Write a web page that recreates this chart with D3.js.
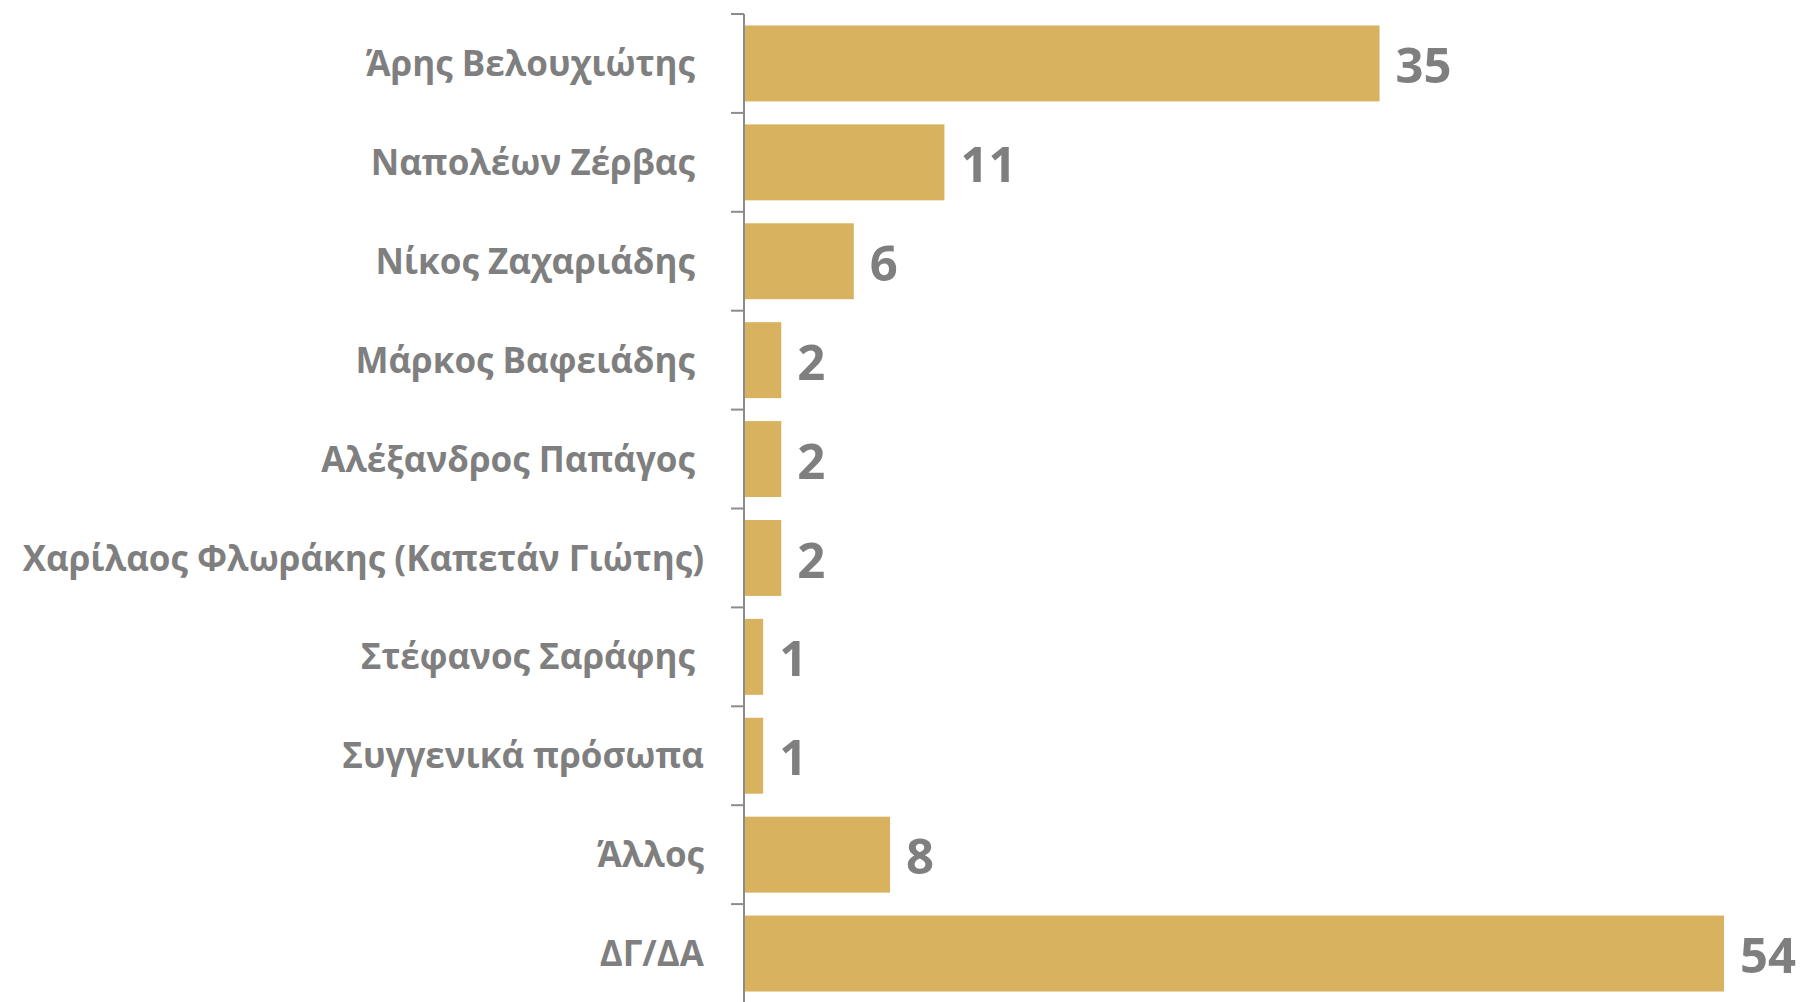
<!DOCTYPE html>
<html><head><meta charset="utf-8">
<script src="https://cdn.jsdelivr.net/npm/d3@7"></script>
<style>html,body{margin:0;padding:0;background:#fff;}svg{display:block;}</style>
</head><body>
<script>
const categories = ["Άρης Βελουχιώτης ","Ναπολέων Ζέρβας ","Νίκος Ζαχαριάδης ","Μάρκος Βαφειάδης ","Αλέξανδρος Παπάγος ","Χαρίλαος Φλωράκης (Καπετάν Γιώτης)","Στέφανος Σαράφης ","Συγγενικά πρόσωπα","Άλλος","ΔΓ/ΔΑ"];
const values = [35,11,6,2,2,2,1,1,8,54];

const W=1804,H=1002;
const svg=d3.select("body").append("svg").attr("width",W).attr("height",H);
const x=d3.scaleLinear().domain([0,54]).range([745,1724]);
const y=d3.scaleBand().domain(categories).range([14,1003]).paddingInner(0.232).paddingOuter(0.116);
const textCol="#7f7f7f";

svg.selectAll("rect.bar").data(values).join("rect").attr("class","bar")
  .attr("x",x(0)).attr("y",(d,i)=>y(categories[i]))
  .attr("width",d=>x(d)-x(0)).attr("height",y.bandwidth()).attr("fill","#d8b25e");

const ag=svg.append("g").attr("transform","translate(744,0)");
ag.append("line").attr("x1",0).attr("x2",0).attr("y1",14).attr("y2",H).attr("stroke","#8c8c8c").attr("stroke-width",2);
const step=y.step();
ag.selectAll("line.t").data(d3.range(categories.length)).join("line").attr("class","t")
  .attr("x1",-13).attr("x2",0).attr("y1",i=>14+i*step).attr("y2",i=>14+i*step)
  .attr("stroke","#8c8c8c").attr("stroke-width",2);

svg.selectAll("text.cat").data(categories).join("text").attr("class","cat")
  .attr("x",704).attr("y",d=>y(d)+y.bandwidth()/2).attr("dy","0.36em")
  .attr("text-anchor","end").attr("font-family","Open Sans").attr("font-weight",700)
  .attr("font-size",35).attr("fill",textCol).style("white-space","pre").text(d=>d);

svg.selectAll("text.val").data(values).join("text").attr("class","val")
  .attr("x",d=>x(d)+16).attr("y",(d,i)=>y(categories[i])+y.bandwidth()/2).attr("dy","0.4em")
  .attr("font-family","Open Sans").attr("font-weight",700)
  .attr("font-size",49).attr("fill",textCol).text(d=>d);
</script>
</body></html>
